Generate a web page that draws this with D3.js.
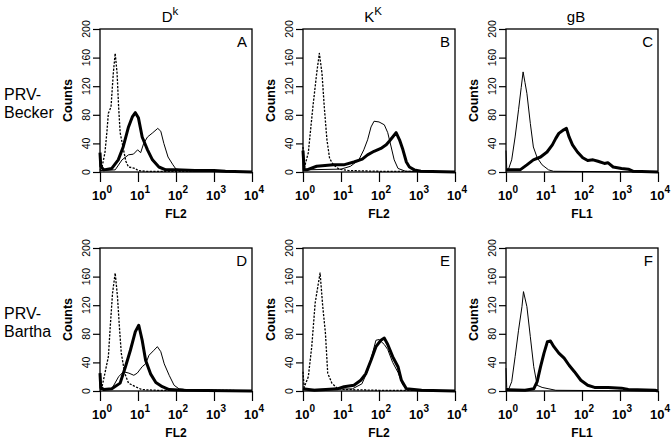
<!DOCTYPE html>
<html><head><meta charset="utf-8">
<script src="https://cdn.jsdelivr.net/npm/d3@7"></script>
<style>body{margin:0;background:#fff}svg{display:block}text{font-family:"Liberation Sans",Arial,Helvetica,sans-serif;fill:#000}</style>
</head><body><svg id="c" width="672" height="446"></svg>
<script>
// ---- labels ----
const headerBase = ["D", "K", "gB"];
const headerSup = ["k", "K", ""];
const rowLabels = [["PRV-", "Becker"], ["PRV-", "Bartha"]];
const panelLetters = ["A", "B", "C", "D", "E", "F"];
const xAxisTitles = ["FL2", "FL2", "FL1", "FL2", "FL2", "FL1"];
const yTicks = [0, 40, 80, 120, 160, 200];
const xDecades = [0, 1, 2, 3, 4];
const yTitle = "Counts";

// ---- series: [log10(fluorescence), counts] ----
const A_dotted = [[0,3],[0.05,6],[0.13,27],[0.18,55],[0.22,82],[0.29,91],[0.35,138],[0.40,166],[0.45,138],[0.49,91],[0.53,55],[0.62,31],[0.68,15],[0.75,7],[0.85,6],[0.93,5],[1.0,2],[1.2,1],[1.6,1],[2.0,1],[2.5,1],[3.0,1],[4.0,0]];
const A_thick = [[0,27],[0.02,8],[0.1,3],[0.31,5],[0.48,17],[0.61,35],[0.75,63],[0.85,77],[0.93,83],[1.01,76],[1.11,49],[1.25,31],[1.38,17],[1.55,7],[1.73,3],[2.0,3],[2.5,2],[3.0,2],[3.3,1],[4,0]];
const A_thin = [[0,2],[0.4,3],[0.58,17],[0.75,24],[0.88,25],[0.99,31],[1.07,27],[1.15,40],[1.25,49],[1.39,55],[1.52,61],[1.6,57],[1.68,40],[1.79,21],[1.92,10],[2.0,4],[2.3,2],[2.7,1],[4,0]];

const B_dotted = [[0,35],[0.03,5],[0.14,27],[0.26,91],[0.36,138],[0.43,166],[0.5,138],[0.56,91],[0.63,45],[0.7,19],[0.8,10],[0.95,4],[1.2,2],[2,1],[3,1],[4,0]];
const B_thick = [[0,30],[0.03,3],[0.1,3],[0.36,8],[0.8,10],[1.07,10],[1.34,14],[1.56,18],[1.7,24],[1.87,29],[2.05,33],[2.19,38],[2.27,43],[2.36,49],[2.45,55],[2.54,45],[2.63,31],[2.72,14],[2.8,7],[2.93,3],[3.1,1],[4,0]];
const B_thin = [[0,3],[1.0,4],[1.25,8],[1.47,17],[1.6,31],[1.7,45],[1.79,63],[1.87,71],[2.0,70],[2.14,66],[2.23,55],[2.32,35],[2.4,17],[2.5,5],[2.7,1],[4,0]];

const C_thin = [[0,30],[0.02,5],[0.06,3],[0.15,17],[0.24,49],[0.33,87],[0.40,118],[0.45,140],[0.50,125],[0.55,110],[0.64,68],[0.72,35],[0.82,20],[0.95,10],[1.12,3],[1.25,1],[4,0]];
const C_thick = [[0,3],[0.37,3],[0.55,10],[0.72,17],[0.91,21],[1.08,28],[1.22,38],[1.31,47],[1.39,54],[1.52,59],[1.59,61],[1.66,49],[1.75,38],[1.88,28],[2.02,20],[2.15,16],[2.29,17],[2.42,15],[2.59,12],[2.68,13],[2.82,7],[3.04,5],[3.22,4],[3.35,1],[4,0]];

const D_dotted = [[0,3],[0.05,5],[0.13,25],[0.22,48],[0.27,90],[0.33,137],[0.40,165],[0.46,132],[0.51,90],[0.56,53],[0.65,25],[0.75,11],[0.93,6],[1.1,2],[1.5,1],[2.5,1],[3.3,1],[4,0]];
const D_thick = [[0,25],[0.02,5],[0.1,2],[0.31,3],[0.53,11],[0.67,34],[0.8,57],[0.93,83],[1.02,92],[1.11,71],[1.2,43],[1.33,24],[1.47,12],[1.64,6],[1.82,2],[2.2,1],[4,0]];
const D_thin = [[0,2],[0.31,3],[0.49,20],[0.62,27],[0.76,25],[0.89,22],[0.98,25],[1.11,34],[1.2,38],[1.29,50],[1.42,57],[1.51,62],[1.6,55],[1.69,38],[1.82,22],[1.95,8],[2.08,3],[2.5,1],[4,0]];

const E_dotted = [[0,27],[0.03,5],[0.14,20],[0.23,62],[0.32,123],[0.39,146],[0.45,165],[0.52,118],[0.59,81],[0.65,25],[0.76,11],[0.9,4],[1.1,2],[2,1],[3,1],[4,0]];
const E_thick = [[0,3],[0.3,1],[0.9,3],[1.08,6],[1.34,8],[1.52,15],[1.65,24],[1.79,43],[1.92,62],[2.05,71],[2.14,74],[2.23,65],[2.36,48],[2.5,34],[2.59,15],[2.72,3],[3.12,1],[4,0]];
const E_thin = [[0,2],[1.3,3],[1.55,10],[1.7,28],[1.83,53],[1.92,71],[2.0,72],[2.14,65],[2.23,58],[2.36,40],[2.5,26],[2.63,8],[2.77,2],[4,0]];

const F_thin = [[0,32],[0.02,5],[0.06,1],[0.15,13],[0.24,48],[0.33,85],[0.42,118],[0.46,139],[0.55,118],[0.64,76],[0.73,34],[0.82,8],[0.95,5],[1.13,3],[1.31,1],[4,0]];
const F_thick = [[0,2],[0.5,1],[0.73,3],[0.82,13],[0.91,34],[1.0,53],[1.09,69],[1.17,70],[1.26,62],[1.39,53],[1.53,46],[1.66,36],[1.8,27],[1.97,15],[2.15,8],[2.33,5],[2.69,5],[3.04,4],[3.22,2],[3.92,1],[4,0]];

const panelSeries = [
  {dotted: A_dotted, thin: A_thin, thick: A_thick},
  {dotted: B_dotted, thin: B_thin, thick: B_thick},
  {dotted: null, thin: C_thin, thick: C_thick},
  {dotted: D_dotted, thin: D_thin, thick: D_thick},
  {dotted: E_dotted, thin: E_thin, thick: E_thick},
  {dotted: null, thin: F_thin, thick: F_thick}
];

// ---- layout ----
const svg = d3.select("#c");
svg.append("rect").attr("width", 672).attr("height", 446).attr("fill", "#fff");
const colX = [100, 303, 506];
const rowY = [29, 248];
const W = 152, H = 143;

const x = d3.scaleLinear().domain([0, 4]).range([0, W]);
const y = d3.scaleLinear().domain([0, 200]).range([H, 0]);
const line = d3.line().x(d => x(d[0])).y(d => y(d[1]));

const styles = {
  dotted: {w: 1.3, dash: "2.2,1.4"},
  thin: {w: 1, dash: null},
  thick: {w: 3, dash: null}
};

// column headers
headerBase.forEach((h, i) => {
  const t = svg.append("text").attr("x", colX[i] + W / 2 - 6).attr("y", 22)
    .attr("text-anchor", "middle").attr("font-size", 15);
  t.append("tspan").text(h);
  if (headerSup[i]) t.append("tspan").attr("dy", -7).attr("font-size", 11.5).text(headerSup[i]);
});

// row labels
rowLabels.forEach((r, i) => {
  r.forEach((s, j) => {
    svg.append("text").attr("x", 4).attr("y", rowY[i] + 71 + j * 18)
      .attr("font-size", 16).text(s);
  });
});

panelSeries.forEach((ps, k) => {
  const r = Math.floor(k / 3), c = k % 3;
  const g = svg.append("g").attr("transform", `translate(${colX[c]},${rowY[r]})`);

  // curves (clipped to plot)
  ["dotted", "thin", "thick"].forEach(key => {
    if (!ps[key]) return;
    const st = styles[key];
    g.append("path").datum(ps[key]).attr("d", line)
      .attr("fill", "none").attr("stroke", "#000")
      .attr("stroke-width", st.w).attr("stroke-linejoin", "round")
      .attr("stroke-dasharray", st.dash);
  });

  // frame
  g.append("rect").attr("x", 0).attr("y", 0).attr("width", W).attr("height", H)
    .attr("fill", "none").attr("stroke", "#000").attr("stroke-width", 1.3);

  // y axis ticks
  const ya = d3.axisLeft(y).tickValues(yTicks).tickSize(7).tickFormat("");
  const yg = g.append("g").call(ya);
  yg.select(".domain").remove();
  yg.selectAll("line").attr("stroke-width", 1.2);
  yTicks.forEach(v => {
    g.append("text").attr("transform", `translate(-10,${y(v)}) rotate(-90)`)
      .attr("text-anchor", "middle").attr("font-size", 10.5).text(v);
  });
  g.append("text").attr("transform", `translate(-28,${H / 2}) rotate(-90)`)
    .attr("text-anchor", "middle").attr("font-size", 12.5).attr("font-weight", "bold").text(yTitle);

  // x axis ticks
  const xa = d3.axisBottom(x).tickValues(xDecades).tickSize(10).tickFormat("");
  const xg = g.append("g").attr("transform", `translate(0,${H})`).call(xa);
  xg.select(".domain").remove();
  xg.selectAll("line").attr("stroke-width", 1.2);
  xDecades.forEach(dv => {
    const t = g.append("text").attr("x", x(dv) + 2).attr("y", H + 28)
      .attr("text-anchor", "middle").attr("font-size", 13).attr("font-weight", "bold");
    t.append("tspan").text("10");
    t.append("tspan").attr("dy", -7).attr("font-size", 10).text(dv);
  });
  g.append("text").attr("x", W / 2).attr("y", H + 46).attr("text-anchor", "middle")
    .attr("font-size", 12).attr("font-weight", "bold").text(xAxisTitles[k]);

  // panel letter
  g.append("text").attr("x", W - 5).attr("y", 18).attr("text-anchor", "end")
    .attr("font-size", 15).text(panelLetters[k]);
});
</script></body></html>
